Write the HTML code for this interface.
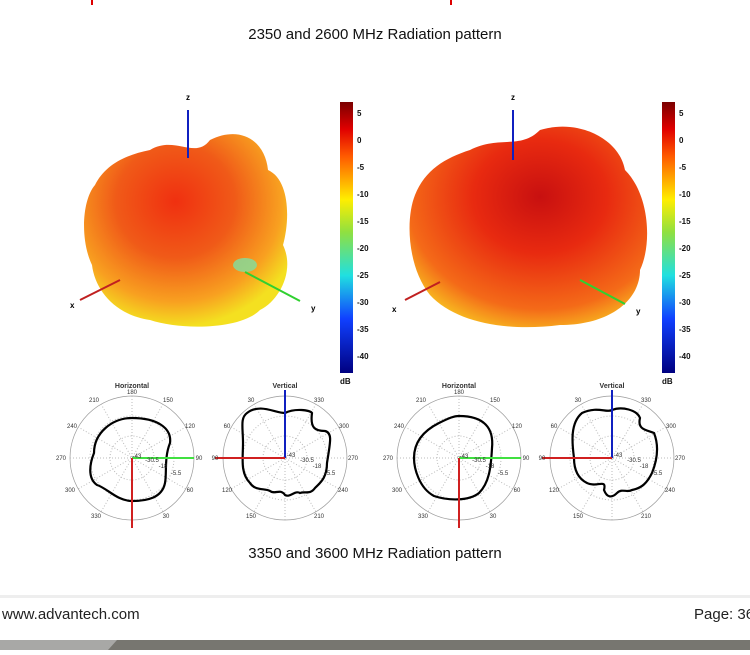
<!DOCTYPE html>
<html><head><meta charset="utf-8"><style>
body{margin:0;background:#fff;width:750px;height:650px;overflow:hidden;font-family:"Liberation Sans",sans-serif}
</style></head><body>
<svg width="750" height="650" viewBox="0 0 750 650" xmlns="http://www.w3.org/2000/svg" font-family="Liberation Sans, sans-serif">
<defs>
<linearGradient id="jet" x1="0" y1="0" x2="0" y2="1">
<stop offset="0" stop-color="#7a0000"/><stop offset="0.1" stop-color="#e00000"/><stop offset="0.2" stop-color="#ff5a00"/>
<stop offset="0.36" stop-color="#ffee00"/><stop offset="0.48" stop-color="#90e040"/><stop offset="0.64" stop-color="#20e0e0"/>
<stop offset="0.8" stop-color="#1040ff"/><stop offset="1" stop-color="#000080"/>
</linearGradient>
<radialGradient id="b1" cx="0.45" cy="0.35" r="0.65">
<stop offset="0" stop-color="#f03010"/><stop offset="0.45" stop-color="#f05a18"/><stop offset="0.8" stop-color="#f8a020"/><stop offset="1" stop-color="#f4e020"/>
</radialGradient>
<radialGradient id="b2" cx="0.55" cy="0.35" r="0.7">
<stop offset="0" stop-color="#c81010"/><stop offset="0.4" stop-color="#e82a10"/><stop offset="0.8" stop-color="#f46a18"/><stop offset="1" stop-color="#f8c020"/>
</radialGradient>
</defs>
<line x1="92" y1="0" x2="92" y2="5" stroke="#d00" stroke-width="2"/>
<line x1="451" y1="0" x2="451" y2="5" stroke="#d00" stroke-width="2"/>
<text x="375" y="39" font-size="15" text-anchor="middle" fill="#111">2350 and 2600 MHz Radiation pattern</text>

<!-- left blob -->
<path d="M150,150 C175,135 195,160 210,140 C240,125 265,140 268,170 C290,180 290,220 283,245 C295,270 280,300 260,310 C240,330 180,330 150,320 C115,315 95,290 92,265 C80,240 82,200 95,185 C105,165 125,155 150,150Z" fill="url(#b1)"/>
<ellipse cx="245" cy="265" rx="12" ry="7" fill="#80e0a0" opacity="0.8"/>
<line x1="188" y1="110" x2="188" y2="158" stroke="#1020c0" stroke-width="2"/>
<text x="188" y="100" font-size="8" font-weight="bold" text-anchor="middle">z</text>
<line x1="80" y1="300" x2="120" y2="280" stroke="#c02020" stroke-width="2"/>
<text x="70" y="308" font-size="8" font-weight="bold">x</text>
<line x1="245" y1="272" x2="300" y2="301" stroke="#30d030" stroke-width="2"/>
<text x="311" y="311" font-size="8" font-weight="bold">y</text>

<!-- right blob -->
<path d="M470,150 C500,135 520,150 540,130 C580,118 620,140 625,170 C650,195 652,245 640,270 C640,300 610,325 560,325 C505,332 455,322 430,295 C408,268 405,220 415,195 C425,170 445,158 470,150Z" fill="url(#b2)"/>
<line x1="513" y1="110" x2="513" y2="160" stroke="#1020c0" stroke-width="2"/>
<text x="513" y="100" font-size="8" font-weight="bold" text-anchor="middle">z</text>
<line x1="405" y1="300" x2="440" y2="282" stroke="#c02020" stroke-width="2"/>
<text x="392" y="312" font-size="8" font-weight="bold">x</text>
<line x1="580" y1="280" x2="625" y2="304" stroke="#30d030" stroke-width="2"/>
<text x="636" y="314" font-size="8" font-weight="bold">y</text>

<!-- colorbars -->
<g font-size="8" font-weight="bold" fill="#111">
<rect x="340" y="102" width="13" height="271" fill="url(#jet)"/>
<text x="357" y="116">5</text><text x="357" y="143">0</text><text x="357" y="170">-5</text><text x="357" y="197">-10</text><text x="357" y="224">-15</text><text x="357" y="251">-20</text><text x="357" y="278">-25</text><text x="357" y="305">-30</text><text x="357" y="332">-35</text><text x="357" y="359">-40</text><text x="340" y="384">dB</text>
<rect x="662" y="102" width="13" height="271" fill="url(#jet)"/>
<text x="679" y="116">5</text><text x="679" y="143">0</text><text x="679" y="170">-5</text><text x="679" y="197">-10</text><text x="679" y="224">-15</text><text x="679" y="251">-20</text><text x="679" y="278">-25</text><text x="679" y="305">-30</text><text x="679" y="332">-35</text><text x="679" y="359">-40</text><text x="662" y="384">dB</text>
</g>

<g font-size="6" fill="#333" text-anchor="middle">
<g transform="translate(132,458)">
<circle r="62" fill="none" stroke="#999" stroke-width="0.7"/><circle r="42" fill="none" stroke="#bbb" stroke-dasharray="1,2"/><circle r="22" fill="none" stroke="#bbb" stroke-dasharray="1,2"/>
<path d="M0,-62V62M-62,0H62M-31,-54L31,54M31,-54L-31,54M-54,-31L54,31M54,-31L-54,31" stroke="#bbb" stroke-dasharray="1,2"/>
<path d="M0,-40 C25,-40 40,-30 38,-15 C32,0 35,15 33,25 C30,40 15,43 0,43 C-15,43 -25,30 -35,27 C-45,20 -42,5 -38,-5 C-38,-25 -20,-40 0,-40Z" fill="none" stroke="#000" stroke-width="2.2"/>
<line x1="0" y1="0" x2="62" y2="0" stroke="#40e040" stroke-width="2"/>
<line x1="0" y1="0" x2="0" y2="70" stroke="#d02020" stroke-width="2"/>
<text x="0" y="-70" font-size="7" font-weight="bold" fill="#333">Horizontal</text>
<text x="0" y="-64">180</text><text x="-38" y="-56">210</text><text x="36" y="-56">150</text><text x="-60" y="-30">240</text><text x="58" y="-30">120</text><text x="-71" y="2">270</text><text x="67" y="2">90</text><text x="-62" y="34">300</text><text x="58" y="34">60</text><text x="-36" y="60">330</text><text x="34" y="60">30</text>
<text x="5" y="0">-43</text><text x="20" y="4">-30.5</text><text x="31" y="10">-18</text><text x="44" y="17">-5.5</text>
</g>
<g transform="translate(285,458)">
<circle r="62" fill="none" stroke="#999" stroke-width="0.7"/><circle r="42" fill="none" stroke="#bbb" stroke-dasharray="1,2"/><circle r="22" fill="none" stroke="#bbb" stroke-dasharray="1,2"/>
<path d="M0,-62V62M-62,0H62M-31,-54L31,54M31,-54L-31,54M-54,-31L54,31M54,-31L-54,31" stroke="#bbb" stroke-dasharray="1,2"/>
<path d="M-38,-45 C-25,-55 -10,-45 0,-45 C10,-50 25,-48 27,-45 C25,-30 30,-27 40,-27 C48,-25 45,-15 42,5 C42,20 35,25 30,30 C25,37 20,33 15,35 C10,32 5,40 0,37 C-5,30 -10,37 -15,33 C-20,30 -30,33 -35,25 C-45,15 -42,0 -42,-15 C-42,-30 -45,-40 -38,-45Z" fill="none" stroke="#000" stroke-width="2.2"/>
<line x1="0" y1="0" x2="0" y2="-68" stroke="#1020c0" stroke-width="2"/>
<line x1="0" y1="0" x2="-70" y2="0" stroke="#d02020" stroke-width="2"/>
<text x="0" y="-70" font-size="7" font-weight="bold" fill="#333">Vertical</text>
<text x="-34" y="-56">30</text><text x="34" y="-56">330</text><text x="-58" y="-30">60</text><text x="59" y="-30">300</text><text x="-70" y="2">90</text><text x="68" y="2">270</text><text x="-58" y="34">120</text><text x="58" y="34">240</text><text x="-34" y="60">150</text><text x="34" y="60">210</text>
<text x="6" y="-1">-43</text><text x="22" y="4">-30.5</text><text x="32" y="10">-18</text><text x="45" y="17">-5.5</text>
</g>
<g transform="translate(459,458)">
<circle r="62" fill="none" stroke="#999" stroke-width="0.7"/><circle r="42" fill="none" stroke="#bbb" stroke-dasharray="1,2"/><circle r="22" fill="none" stroke="#bbb" stroke-dasharray="1,2"/>
<path d="M0,-62V62M-62,0H62M-31,-54L31,54M31,-54L-31,54M-54,-31L54,31M54,-31L-54,31" stroke="#bbb" stroke-dasharray="1,2"/>
<path d="M0,-42 C25,-42 35,-30 33,-10 C32,10 30,25 20,35 C10,43 -10,43 -25,38 C-40,30 -45,10 -45,0 C-45,-20 -30,-30 -20,-35 C-10,-40 -5,-42 0,-42Z" fill="none" stroke="#000" stroke-width="2.2"/>
<line x1="0" y1="0" x2="62" y2="0" stroke="#40e040" stroke-width="2"/>
<line x1="0" y1="0" x2="0" y2="70" stroke="#d02020" stroke-width="2"/>
<text x="0" y="-70" font-size="7" font-weight="bold" fill="#333">Horizontal</text>
<text x="0" y="-64">180</text><text x="-38" y="-56">210</text><text x="36" y="-56">150</text><text x="-60" y="-30">240</text><text x="58" y="-30">120</text><text x="-71" y="2">270</text><text x="67" y="2">90</text><text x="-62" y="34">300</text><text x="58" y="34">60</text><text x="-36" y="60">330</text><text x="34" y="60">30</text>
<text x="5" y="0">-43</text><text x="20" y="4">-30.5</text><text x="31" y="10">-18</text><text x="44" y="17">-5.5</text>
</g>
<g transform="translate(612,458)">
<circle r="62" fill="none" stroke="#999" stroke-width="0.7"/><circle r="42" fill="none" stroke="#bbb" stroke-dasharray="1,2"/><circle r="22" fill="none" stroke="#bbb" stroke-dasharray="1,2"/>
<path d="M0,-62V62M-62,0H62M-31,-54L31,54M31,-54L-31,54M-54,-31L54,31M54,-31L-54,31" stroke="#bbb" stroke-dasharray="1,2"/>
<path d="M-30,-45 C-15,-52 -5,-45 0,-48 C10,-52 25,-48 28,-40 C25,-28 35,-28 42,-25 C48,-10 44,5 40,15 C35,25 30,30 20,32 C15,35 10,30 5,35 C0,40 -5,40 -8,32 C-5,20 -15,30 -25,25 C-35,20 -38,10 -38,0 C-40,-15 -42,-35 -30,-45Z" fill="none" stroke="#000" stroke-width="2.2"/>
<line x1="0" y1="0" x2="0" y2="-68" stroke="#1020c0" stroke-width="2"/>
<line x1="0" y1="0" x2="-70" y2="0" stroke="#d02020" stroke-width="2"/>
<text x="0" y="-70" font-size="7" font-weight="bold" fill="#333">Vertical</text>
<text x="-34" y="-56">30</text><text x="34" y="-56">330</text><text x="-58" y="-30">60</text><text x="59" y="-30">300</text><text x="-70" y="2">90</text><text x="68" y="2">270</text><text x="-58" y="34">120</text><text x="58" y="34">240</text><text x="-34" y="60">150</text><text x="34" y="60">210</text>
<text x="6" y="-1">-43</text><text x="22" y="4">-30.5</text><text x="32" y="10">-18</text><text x="45" y="17">-5.5</text>
</g>
</g>

<text x="375" y="558" font-size="15" text-anchor="middle" fill="#111">3350 and 3600 MHz Radiation pattern</text>

<rect x="0" y="595" width="750" height="3" fill="#eee"/>
<text x="2" y="619" font-size="15" fill="#222">www.advantech.com</text>
<text x="694" y="619" font-size="15" fill="#222">Page: 36</text>
<rect x="0" y="640" width="750" height="10" fill="#777670"/>
<polygon points="0,640 117,640 108,650 0,650" fill="#a8a8a6"/>
</svg>
</body></html>
